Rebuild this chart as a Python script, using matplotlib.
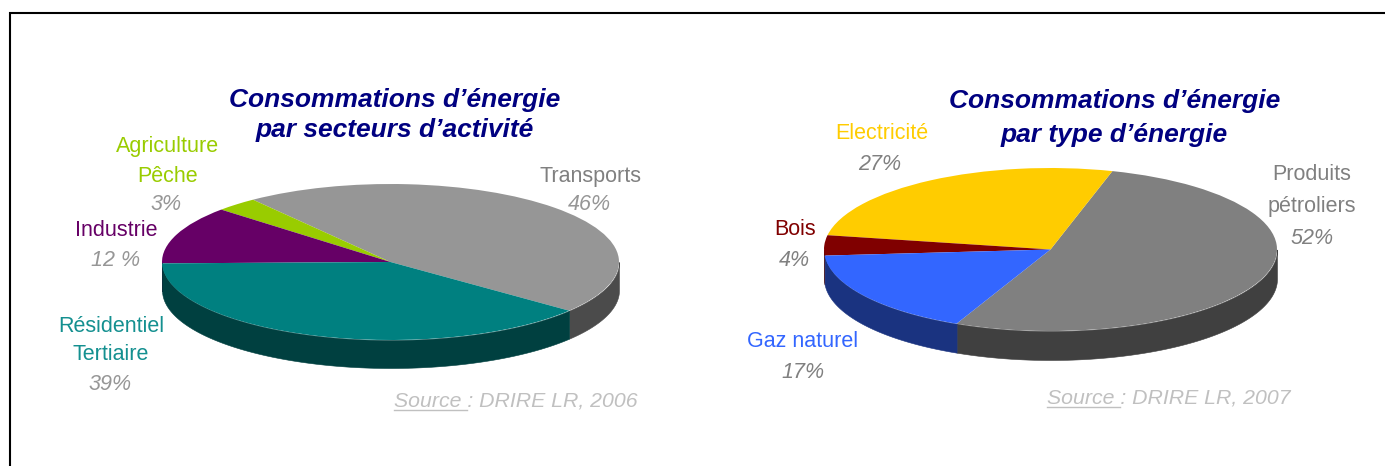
import numpy as np
import matplotlib
matplotlib.use("Agg")
import matplotlib.pyplot as plt

plt.rcParams['font.family'] = ['Liberation Sans', 'DejaVu Sans']

W, H = 1385, 466

# --- data ---
sector_names = ["Transports", "Agriculture\nPêche", "Industrie", "Résidentiel\nTertiaire"]
sector_shares = [46, 3, 12, 39]
sector_pct_text = ["46%", "3%", "12 %", "39%"]
sector_colors = ["#969696", "#99CC00", "#660066", "#008080"]
sector_sides = ["#4B4B4B", "#4C6600", "#330033", "#004040"]

energy_names = ["Produits\npétroliers", "Electricité", "Bois", "Gaz naturel"]
energy_shares = [52.4, 26.6, 4, 17]
energy_pct_text = ["52%", "27%", "4%", "17%"]
energy_colors = ["#808080", "#FFCC00", "#800000", "#3366FF"]
energy_sides = ["#404040", "#806600", "#400000", "#1A3380"]


def px_axes(left, right, top, bottom):
    return fig.add_axes([left / W, 1 - bottom / H, (right - left) / W, (bottom - top) / H])


def pie3d(left, right, top, bottom, depth, shares, colors, sides, start):
    ry = (bottom - top) / 2
    ax = px_axes(left, right, top, bottom + depth)
    d = depth / ry
    edges = start + np.cumsum([0] + list(shares)) * 3.6
    # side wall: only the part of every slice that lies on the front half
    for a0, a1, col in zip(edges[:-1], edges[1:], sides):
        for k in (-360, 0, 360):
            lo, hi = max(a0, 180 + k), min(a1, 360 + k)
            if hi > lo:
                t = np.radians(np.linspace(lo, hi, 120))
                x = np.cos(t)
                y = np.sin(t)
                ax.fill_between(x, y - d, y, color=col, lw=0.4, zorder=1)
    wedges, _ = ax.pie(shares, colors=colors, startangle=start, counterclock=True,
                       radius=1, wedgeprops=dict(linewidth=0))
    for w in wedges:
        w.set_zorder(2)
    ax.set_aspect('auto')
    ax.set_xlim(-1, 1)
    ax.set_ylim(-1 - d, 1)
    ax.axis('off')
    return ax


fig = plt.figure(figsize=(W / 100, H / 100), dpi=100, facecolor='white')

bg = fig.add_axes([0, 0, 1, 1], zorder=5)
bg.set_xlim(0, W)
bg.set_ylim(H, 0)
bg.axis('off')
bg.patch.set_alpha(0)

# frame: left and top sides only
bg.plot([10, 10, W], [H, 13, 13], color='black', lw=1.5, solid_joinstyle='miter')

pie3d(162, 619, 184, 340, 28, sector_shares, sector_colors, sector_sides, -38.6)
pie3d(824, 1277, 168, 331, 29, energy_shares, energy_colors, energy_sides, 245.5)


def title(x, ys, s):
    for y, line in zip(ys, s.split("\n")):
        bg.text(x, y, line, ha='center', va='center', fontsize=19, fontweight='bold', fontstyle='italic',
                color='#000080')


title(395, (100, 130), "Consommations d’énergie\npar secteurs d’activité")
title(1114.5, (101, 135), "Consommations d’énergie\npar type d’énergie")

NAME_FS = 15.5
PCT_FS = 15.5


def name(x, ys, s, c):
    for y, line in zip(ys, s.split("\n")):
        bg.text(x, y + 1.5, line, ha='center', va='center', fontsize=NAME_FS, color=c)


def pct(x, y, s, c='#969696'):
    bg.text(x, y + 1, s, ha='center', va='center', fontsize=PCT_FS, fontstyle='italic', color=c)


name(590, (175,), sector_names[0], "#808080")
pct(589, 204, sector_pct_text[0])
name(168, (145, 175), sector_names[1], "#99CC00")
pct(166, 204, sector_pct_text[1])
name(116, (229,), sector_names[2], "#660066")
pct(116, 260, sector_pct_text[2])
name(111, (325, 353), sector_names[3], "#149090")
pct(110, 383, sector_pct_text[3])

name(1312, (173, 205), energy_names[0], "#808080")
pct(1312, 237, energy_pct_text[0], '#808080')
name(882, (132,), energy_names[1], "#FFCC00")
pct(880, 164, energy_pct_text[1], '#808080')
name(795, (228,), energy_names[2], "#800000")
pct(794, 260, energy_pct_text[2], '#808080')
name(803, (340,), energy_names[3], "#3366FF")
pct(803, 372, energy_pct_text[3], '#808080')

for x0, x1, yt, yu, s in [(394, 467, 401, 410, "Source : DRIRE LR, 2006"),
                          (1047, 1120, 398, 407, "Source : DRIRE LR, 2007")]:
    bg.text(x0, yt, s, ha='left', va='center', fontsize=15.3, fontstyle='italic', color='#C0C0C0')
    bg.plot([x0, x1], [yu, yu], color='#C0C0C0', lw=1.0)

fig.savefig("out.png", dpi=100)
